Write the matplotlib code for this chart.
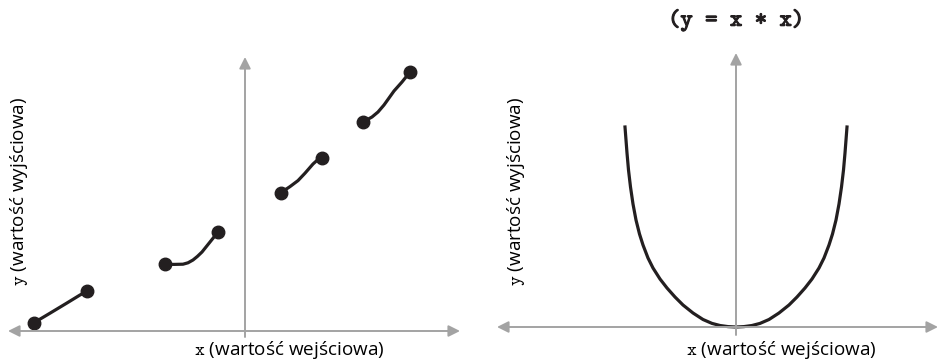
import numpy as np
import matplotlib.pyplot as plt
import matplotlib.patheffects as pe

plt.rcParams['font.family'] = ['Open Sans', 'DejaVu Sans']
plt.rcParams['mathtext.fontset'] = 'cm'

# lewy wykres - funkcja nieciagla, odcinki (x, y)
seg1_x = [-10.54, -9.75, -8.92, -8.25, -7.89]
seg1_y = [0.42, 0.89, 1.39, 1.8, 1.99]
seg2_x = [-4.0, -3.55, -3.1, -2.85, -2.6, -2.38, -2.15, -1.75, -1.35]
seg2_y = [3.34, 3.33, 3.34, 3.41, 3.55, 3.73, 3.95, 4.45, 4.95]
seg3_x = [1.8, 2.25, 2.65, 3.0, 3.4, 3.6, 3.85]
seg3_y = [6.92, 7.22, 7.52, 7.89, 8.35, 8.53, 8.64]
seg4_x = [5.9, 6.35, 6.65, 6.95, 7.2, 7.45, 7.85, 8.25]
seg4_y = [10.45, 10.7, 10.95, 11.3, 11.65, 12.0, 12.45, 12.95]
segments = [(seg1_x, seg1_y), (seg2_x, seg2_y), (seg3_x, seg3_y), (seg4_x, seg4_y)]

# prawy wykres - parabola y = x * x
par_x = [-4.44, -4.4, -4.36, -4.3, -4.22, -4.12, -4.0, -3.86, -3.72, -3.52, -3.32,
         -3.04, -2.76, -2.44, -2.12, -1.72, -1.32, -0.96, -0.64, -0.32, 0.0,
         0.32, 0.64, 0.96, 1.32, 1.72, 2.12, 2.44, 2.76, 3.04, 3.32,
         3.52, 3.72, 3.86, 4.0, 4.12, 4.22, 4.3, 4.36, 4.4, 4.44]
par_y = [20.0, 18.7, 17.4, 15.7, 14.0, 12.3, 10.7, 9.3, 8.2, 6.9, 5.9,
         4.8, 3.9, 3.0, 2.2, 1.4, 0.75, 0.36, 0.15, 0.04, 0.0,
         0.04, 0.15, 0.36, 0.75, 1.4, 2.2, 3.0, 3.9, 4.8, 5.9,
         6.9, 8.2, 9.3, 10.7, 12.3, 14.0, 15.7, 17.4, 18.7, 20.0]

GRAY = '#a3a3a3'
CURVE = '#231f20'

fig = plt.figure(figsize=(9.48, 3.62), dpi=100)
ax1 = fig.add_axes([0, 0, 0.5, 1])
ax2 = fig.add_axes([0.5, 0, 0.5, 1])

arrow = dict(color=GRAY, lw=1.4, mutation_scale=17, shrinkA=0, shrinkB=0)

# lewy
ax1.set_xlim(-12.25, 11.45)
ax1.set_ylim(-1.55, 16.55)
ax1.annotate('', xy=(-11.85, 0), xytext=(10.75, 0), arrowprops=dict(arrowstyle='<|-|>', **arrow))
ax1.annotate('', xy=(0, 13.7), xytext=(0, -0.3), arrowprops=dict(arrowstyle='-|>', **arrow))
for sx, sy in segments:
    ax1.plot(sx, sy, color=CURVE, lw=2.3, solid_capstyle='round', solid_joinstyle='round')
    ax1.plot([sx[0], sx[-1]], [sy[0], sy[-1]], 'o', color=CURVE, ms=9)

# prawy
ax2.set_xlim(-10.48, 8.48)
ax2.set_ylim(-3.5, 32.7)
ax2.annotate('', xy=(-9.56, 0), xytext=(8.08, 0), arrowprops=dict(arrowstyle='<|-|>', **arrow))
ax2.annotate('', xy=(0, 27.4), xytext=(0, -0.8), arrowprops=dict(arrowstyle='-|>', **arrow))
ax2.plot(par_x, par_y, color=CURVE, lw=2.3, solid_joinstyle='round')

for ax in (ax1, ax2):
    ax.axis('off')

xlab = r'$\mathtt{x}$ (wartość wejściowa)'
ylab = r'$\mathtt{y}$ (wartość wyjściowa)'
fs = 13.6
fig.text(289 / 948, 1 - 355 / 362, xlab, ha='center', va='baseline', fontsize=fs)
fig.text(781 / 948, 1 - 355 / 362, xlab, ha='center', va='baseline', fontsize=fs)
fig.text(19 / 948, 1 - 191 / 362, ylab, ha='center', va='center', rotation=90, fontsize=fs)
fig.text(516 / 948, 1 - 191 / 362, ylab, ha='center', va='center', rotation=90, fontsize=fs)

fig.text(736 / 948, 1 - 20 / 362, '(y = x * x)', ha='center', va='center',
         family='cmtt10', fontsize=17,
         path_effects=[pe.withStroke(linewidth=0.8, foreground='#231f20')], color='#231f20')

fig.savefig('out.png', dpi=100)
